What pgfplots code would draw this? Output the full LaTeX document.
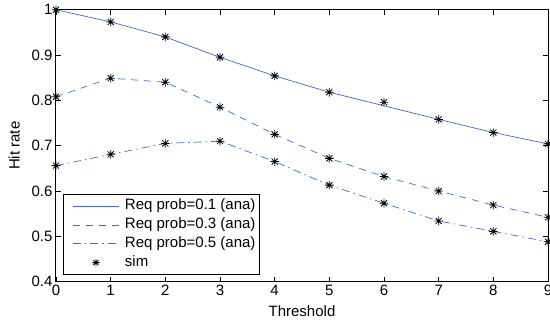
\documentclass[border=0pt]{standalone}
\usepackage{pgfplots}
\pgfplotsset{compat=1.18}
\usepackage{fontspec}
\setmainfont{Liberation Sans}
\definecolor{mblue}{rgb}{0.28,0.40,0.78}
\pgfdeclareplotmark{mstar}{%
  \pgfpathmoveto{\pgfqpoint{-\pgfplotmarksize}{0pt}}\pgfpathlineto{\pgfqpoint{\pgfplotmarksize}{0pt}}%
  \pgfpathmoveto{\pgfqpoint{0pt}{-\pgfplotmarksize}}\pgfpathlineto{\pgfqpoint{0pt}{\pgfplotmarksize}}%
  \pgfpathmoveto{\pgfqpoint{-0.707\pgfplotmarksize}{-0.707\pgfplotmarksize}}\pgfpathlineto{\pgfqpoint{0.707\pgfplotmarksize}{0.707\pgfplotmarksize}}%
  \pgfpathmoveto{\pgfqpoint{-0.707\pgfplotmarksize}{0.707\pgfplotmarksize}}\pgfpathlineto{\pgfqpoint{0.707\pgfplotmarksize}{-0.707\pgfplotmarksize}}%
  \pgfusepathqstroke}
\pgfplotsset{simlegend/.style={legend image code/.code={\draw[##1, mark size=3.6pt, line width=0.7pt] (-5pt,0pt) (46pt,0pt) plot coordinates {(23pt,0pt)};}}}
\begin{document}
\begin{tikzpicture}
\begin{axis}[
  scale only axis,
  width=492pt, height=272pt,
  xmin=0, xmax=9, ymin=0.4, ymax=1,
  xtick={0,...,9},
  ytick={0.4,0.5,0.6,0.7,0.8,0.9,1},
  yticklabels={0.4,0.5,0.6,0.7,0.8,0.9,1},
  tick align=inside,
  major tick length=5pt,
  tick style={black, line width=0.6pt},
  axis line style={black, line width=1pt},
  font=\fontsize{15}{18}\selectfont,
  tick label style={font=\fontsize{15}{18}\selectfont},
  /pgf/number format/assume math mode=true,
  xlabel={Threshold},
  ylabel={Hit rate},
  xlabel style={at={(axis description cs:0.5,0)}, anchor=north, yshift=-24pt, inner sep=0pt},
  ylabel style={at={(axis description cs:-0.073,0.5)}, anchor=south, inner sep=0pt},
  legend style={at={(axis description cs:0.0148,0.027)}, anchor=south west,
    draw=black, line width=0.6pt, font=\fontsize{15}{18}\selectfont,
    inner xsep=4pt, inner ysep=4.2pt, row sep=4.3pt, column sep=5.7pt,
    nodes={inner sep=0pt, text height=11pt, text depth=3.5pt}},
  legend cell align=left,
  legend image code/.code={\draw[#1] (-5pt,0pt) (0pt,0pt) -- (46pt,0pt);},
  legend plot pos=left,
]
\addplot[mblue, line width=0.7pt, solid] coordinates {
 (0,1.000) (1,0.973) (2,0.940) (3,0.895) (4,0.854) (5,0.818) (6,0.788) (7,0.758) (8,0.729) (9,0.704)};
\addlegendentry{Req prob=0.1 (ana)}
\addplot[mblue, line width=0.7pt, dash pattern=on 7pt off 6pt] coordinates {
 (0,0.808) (1,0.849) (2,0.840) (3,0.785) (4,0.725) (5,0.672) (6,0.632) (7,0.600) (8,0.569) (9,0.542)};
\addlegendentry{Req prob=0.3 (ana)}
\addplot[mblue, line width=0.7pt, dash pattern=on 8pt off 4pt on 1.5pt off 4pt] coordinates {
 (0,0.656) (1,0.681) (2,0.705) (3,0.710) (4,0.665) (5,0.613) (6,0.573) (7,0.534) (8,0.511) (9,0.488)};
\addlegendentry{Req prob=0.5 (ana)}
\addplot[only marks, mark=mstar, mark size=4.3pt, black, mark options={line width=0.8pt}, simlegend] coordinates {
 (0,1.000) (1,0.973) (2,0.940) (3,0.895) (4,0.854) (5,0.818) (6,0.796) (7,0.758) (8,0.729) (9,0.704)
 (0,0.808) (1,0.849) (2,0.840) (3,0.785) (4,0.725) (5,0.672) (6,0.632) (7,0.600) (8,0.569) (9,0.542)
 (0,0.656) (1,0.681) (2,0.705) (3,0.710) (4,0.665) (5,0.613) (6,0.573) (7,0.534) (8,0.511) (9,0.488)};
\addlegendentry{sim}
\end{axis}
\pgfresetboundingbox
\path (current axis.south west) ++(-56pt,-40.5pt) coordinate (bl);
\path (current axis.north east) ++(2pt,9.7pt) coordinate (tr);
\useasboundingbox (bl) rectangle (tr);
\end{tikzpicture}
\end{document}
